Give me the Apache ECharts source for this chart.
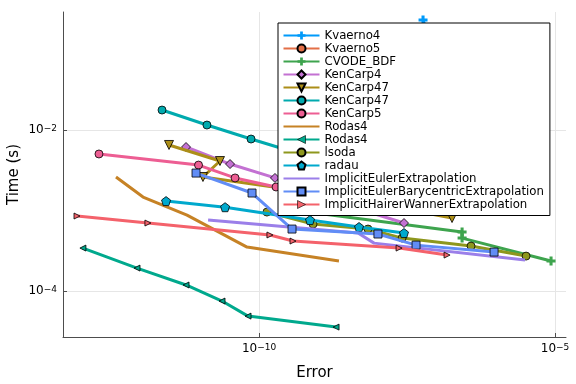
<!DOCTYPE html>
<html><head><meta charset="utf-8">
<script src="https://cdn.jsdelivr.net/npm/echarts@6/dist/echarts.min.js"></script>
<style>html,body{margin:0;padding:0;background:#fff}#c{width:576px;height:384px}</style>
</head><body><div id="c"></div>
<script>
// ---- data (Error, Time in seconds) ----
const kvaerno4Err = [5.89e-8, 1.14e-7, 3.66e-7, 1.18e-6];
const kvaerno4Time = [0.232, 0.0556, 0.0133, 0.00318];
const kvaerno5Err = [1.58e-9, 1.11e-8, 7.74e-8, 5.41e-7];
const kvaerno5Time = [0.0236, 0.0100, 0.00424, 0.00180];
const cvodeErr = [3.34e-10, 4.93e-10, 2.69e-7, 2.69e-7, 8.55e-6];
const cvodeTime = [0.00565, 9.87e-4, 5.41e-4, 4.55e-4, 2.36e-4];
const kenCarp4Err = [5.85e-12, 3.24e-11, 1.86e-10, 1.58e-9, 2.81e-8];
const kenCarp4Time = [0.00615, 0.00378, 0.00254, 0.00135, 7.0e-4];
const kenCarp47aErr = [3.02e-12, 2.19e-11, 1.13e-11, 1.58e-9, 1.82e-7];
const kenCarp47aTime = [0.00652, 0.00412, 0.00261, 0.00156, 8.07e-4];
const kenCarp47bErr = [2.30e-12, 1.32e-11, 7.33e-11, 1.07e-9, 2.41e-8];
const kenCarp47bTime = [0.0177, 0.01153, 0.00773, 0.00424, 0.00239];
const kenCarp5Err = [1.98e-13, 9.51e-12, 3.94e-11, 1.94e-10, 3.44e-9, 5.25e-8];
const kenCarp5Time = [0.00504, 0.00367, 0.00254, 0.00196, 0.00135, 0.00117];
const rodas4aErr = [3.84e-13, 1.10e-12, 6.08e-12, 6.27e-11, 2.24e-9];
const rodas4aTime = [0.00261, 0.00147, 8.79e-4, 3.52e-4, 2.36e-4];
const rodas4bErr = [1.06e-13, 8.69e-13, 5.85e-12, 2.37e-11, 6.52e-11, 2.00e-9];
const rodas4bTime = [3.42e-4, 1.93e-4, 1.19e-4, 7.52e-5, 4.89e-5, 3.57e-5];
const lsodaErr = [1.36e-10, 8.17e-10, 6.93e-9, 2.61e-8, 3.81e-7, 3.24e-6];
const lsodaTime = [9.57e-4, 6.79e-4, 5.89e-4, 4.55e-4, 3.62e-4, 2.72e-4];
const radauErr = [2.69e-12, 2.67e-11, 7.26e-10, 4.89e-9, 2.81e-8];
const radauTime = [0.00131, 0.00110, 7.62e-4, 6.24e-4, 5.25e-4];
const ieeErr = [1.38e-11, 4.70e-9, 8.77e-9, 3.11e-6];
const ieeTime = [7.62e-4, 5.25e-4, 3.94e-4, 2.43e-4];
const iebeErr = [8.63e-12, 7.62e-11, 3.61e-10, 1.02e-8, 4.49e-8, 9.33e-7];
const iebeTime = [0.00292, 0.00165, 5.89e-4, 5.11e-4, 3.72e-4, 3.05e-4];
const ihweErr = [8.43e-14, 1.33e-12, 1.53e-10, 3.75e-10, 2.32e-8, 1.50e-7];
const ihweTime = [8.55e-4, 7.0e-4, 4.97e-4, 4.18e-4, 3.42e-4, 2.80e-4];

const seriesLabels = ['Kvaerno4','Kvaerno5','CVODE_BDF','KenCarp4','KenCarp47','KenCarp47','KenCarp5','Rodas4','Rodas4','lsoda','radau','ImplicitEulerExtrapolation','ImplicitEulerBarycentricExtrapolation','ImplicitHairerWannerExtrapolation'];
const xTicks = [1e-10, 1e-5];
const yTicks = [1e-4, 1e-2];

const FONT = 'DejaVu Sans';
const PLUS = 'path://M3.3,0H6.7V3.3H10V6.7H6.7V10H3.3V6.7H0V3.3H3.3Z';
const TDOWN = 'path://M0,0H10L5,9Z';
const TLEFT = 'path://M0,5L9,0V10Z';
const TRIGHT = 'path://M9,5L0,0V10Z';
const PENT = 'path://M5,0L10,3.6L8.1,9.5H1.9L0,3.6Z';

const defs = [
  [kvaerno4Err, kvaerno4Time, '#009AFA', PLUS, 9, false],
  [kvaerno5Err, kvaerno5Time, '#E36F47', 'circle', 8, true],
  [cvodeErr, cvodeTime, '#3EA44E', PLUS, 9, false],
  [kenCarp4Err, kenCarp4Time, '#C371D2', 'diamond', 9, true],
  [kenCarp47aErr, kenCarp47aTime, '#AC8E18', TDOWN, 9, true],
  [kenCarp47bErr, kenCarp47bTime, '#00AAAE', 'circle', 8, true],
  [kenCarp5Err, kenCarp5Time, '#ED5E93', 'circle', 8, true],
  [rodas4aErr, rodas4aTime, '#C68225', 'none', 0, false],
  [rodas4bErr, rodas4bTime, '#00A98D', TLEFT, 6, true],
  [lsodaErr, lsodaTime, '#8E971D', 'circle', 8, true],
  [radauErr, radauTime, '#00A9CD', PENT, 9, true],
  [ieeErr, ieeTime, '#9B7FE9', 'none', 0, false],
  [iebeErr, iebeTime, '#618DF6', 'rect', 8, true],
  [ihweErr, ihweTime, '#F4626B', TRIGHT, 6, true]
];

const series = defs.map((d, i) => ({
  name: 's' + i,
  type: 'line',
  data: d[0].map((e, k) => [e, d[1][k]]),
  symbol: d[3],
  symbolSize: d[4],
  showSymbol: d[3] !== 'none',
  lineStyle: { color: d[2], width: 3 },
  itemStyle: { color: d[2], borderColor: '#000', borderWidth: d[5] ? 0.8 : 0 },
  emphasis: { disabled: true },
  z: 2 + i * 0.01
}));

const legendData = defs.map((d, i) => {
  const item = { name: 's' + i };
  if (d[3] === 'none') item.itemStyle = { opacity: 0, color: 'rgba(0,0,0,0)', borderWidth: 0 };
  if (d[4] === 6) item.itemStyle = { borderWidth: 0.6 };
  return item;
});

function pow10Label(v) {
  const e = Math.round(Math.log10(v));
  return '{b|10}{s|' + (e < 0 ? '\u2212' : '') + Math.abs(e) + '}';
}
const rich = {
  b: { fontSize: 12, fontFamily: FONT, color: '#000', lineHeight: 12, padding: [5, 0, 0, 0], verticalAlign: 'bottom' },
  s: { fontSize: 9, fontFamily: FONT, color: '#000', lineHeight: 9, verticalAlign: 'top' }
};

const chart = echarts.init(document.getElementById('c'), null, { renderer: 'canvas' });
chart.setOption({
  animation: false,
  backgroundColor: '#fff',
  grid: { left: 63, right: 10, top: 12, bottom: 47, containLabel: false, outerBoundsMode: 'none' },
  xAxis: {
    type: 'log', logBase: 10, min: 4.89e-14, max: 1.53e-5,
    name: 'Error', nameLocation: 'middle', nameGap: 29, nameMoveOverlap: false,
    nameTextStyle: { fontSize: 15, fontFamily: FONT, color: '#000' },
    axisLine: { show: true, lineStyle: { color: '#4d4d4d', width: 1 } },
    axisTick: { show: true, inside: true, length: 4, customValues: xTicks, lineStyle: { color: '#4d4d4d' } },
    axisLabel: { customValues: xTicks, formatter: pow10Label, rich: rich, margin: 6 },
    splitLine: { show: true, lineStyle: { color: '#e6e6e6', width: 1 } },
    minorTick: { show: false }, minorSplitLine: { show: false }
  },
  yAxis: {
    type: 'log', logBase: 10, min: 2.69e-5, max: 0.292,
    name: 'Time (s)', nameLocation: 'middle', nameGap: 41, nameRotate: 90, nameMoveOverlap: false,
    nameTextStyle: { fontSize: 15, fontFamily: FONT, color: '#000' },
    axisLine: { show: true, lineStyle: { color: '#4d4d4d', width: 1 } },
    axisTick: { show: true, inside: true, length: 4, customValues: yTicks, lineStyle: { color: '#4d4d4d' } },
    axisLabel: { customValues: yTicks, formatter: pow10Label, rich: rich, margin: 6 },
    splitLine: { show: true, lineStyle: { color: '#e6e6e6', width: 1 } },
    minorTick: { show: false }, minorSplitLine: { show: false }
  },
  legend: {
    orient: 'vertical', left: 278, top: 23,
    padding: [6, 6, 4.5, 4.5], itemGap: 0, itemWidth: 36, itemHeight: 10,
    backgroundColor: '#fff', borderColor: '#000', borderWidth: 1, borderRadius: 0,
    selectedMode: false,
    textStyle: { fontSize: 11.75, fontFamily: FONT, color: '#000', lineHeight: 13 },
    formatter: name => seriesLabels[+name.slice(1)],
    data: legendData
  },
  series: series
});
</script>
</body></html>
